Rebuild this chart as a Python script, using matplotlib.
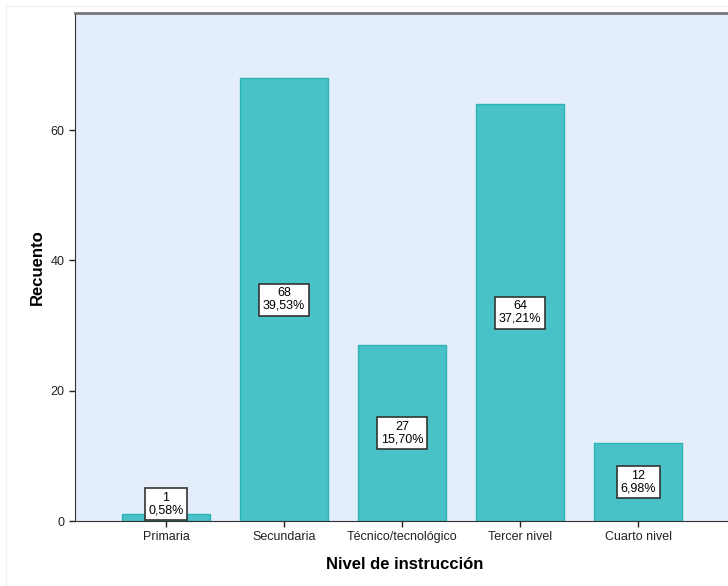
import matplotlib.pyplot as plt
import matplotlib.patches as mpatches

plt.rcParams['font.family'] = ['Liberation Sans', 'DejaVu Sans']

# Recuento por nivel de instrucción
niveles = ["Primaria", "Secundaria", "Técnico/tecnológico", "Tercer nivel", "Cuarto nivel"]
recuento = [1, 68, 27, 64, 12]
porcentaje = ["0,58%", "39,53%", "15,70%", "37,21%", "6,98%"]

fig = plt.figure(figsize=(7.28, 5.86), dpi=100)
ax = fig.add_axes([75 / 728, 65 / 586, 660 / 728, 508 / 586])
ax.set_facecolor("#E3EEFA")

x = list(range(len(niveles)))
ax.bar(x, recuento, width=0.746, color="#48C2C6", edgecolor="#2DB3B3", linewidth=1, zorder=2)

# Etiquetas con recuento y porcentaje dentro de cada barra
for xi, v, p in zip(x, recuento, porcentaje):
    ypos = max(v / 2, 2.6)
    ax.text(xi, ypos, f"{v}\n{p}", ha="center", va="center", fontsize=9,
            linespacing=1.05, zorder=3,
            bbox=dict(boxstyle="square,pad=0.3", fc="white", ec="#333333", lw=1.2))

ax.set_xlim(-0.771, 4.822)
ax.set_ylim(0, 78)
ax.set_yticks([0, 20, 40, 60])
ax.set_xticks(x)
ax.set_xticklabels(niveles)
ax.tick_params(axis="both", labelsize=9, length=4, width=1, color="#222222", labelcolor="#222222")

ax.spines["right"].set_visible(False)
ax.spines["top"].set_color("#777777")
ax.spines["top"].set_linewidth(2)
ax.spines["left"].set_color("#333333")
ax.spines["bottom"].set_color("#333333")

ax.set_xlabel("Nivel de instrucción", fontsize=12, fontweight="bold", labelpad=10)
ax.set_ylabel("Recuento", fontsize=12, fontweight="bold", labelpad=4)

# marco exterior tenue
fig.patches.append(mpatches.Rectangle((6 / 728, -0.1), 1.2, 1 - 6 / 586 + 0.1,
                                      transform=fig.transFigure, fill=False,
                                      ec="#F2F2F2", lw=1))

fig.savefig("out.png", dpi=100)
